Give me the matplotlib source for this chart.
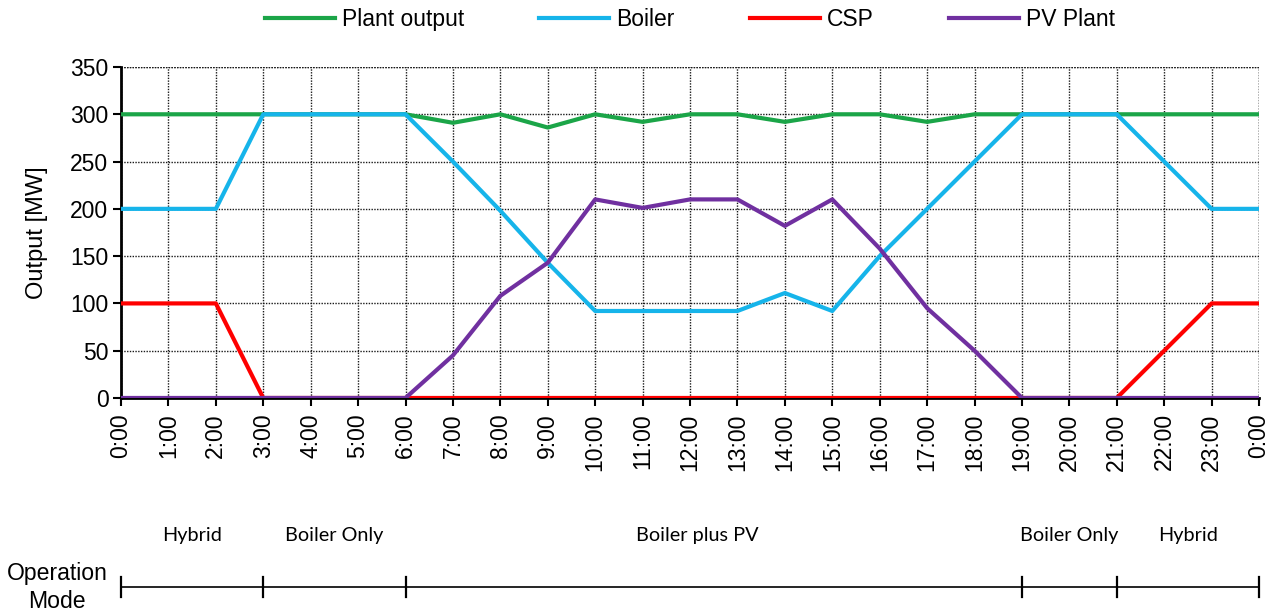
import matplotlib.pyplot as plt
import matplotlib.transforms as mtransforms
import numpy as np

plt.rcParams['font.family'] = ['Liberation Sans', 'DejaVu Sans']

hours = list(range(25))
hour_labels = [f"{h % 24}:00" for h in hours]

plant_output = [300, 300, 300, 300, 300, 300, 300, 291, 300, 286, 300, 292, 300,
                300, 292, 300, 300, 292, 300, 300, 300, 300, 300, 300, 300]
boiler = [200, 200, 200, 300, 300, 300, 300, 250, 198, 143, 92, 92, 92,
          92, 111, 92, 150, 200, 250, 300, 300, 300, 250, 200, 200]
csp = [100, 100, 100, 0, 0, 0, 0, 0, 0, 0, 0, 0, 0,
       0, 0, 0, 0, 0, 0, 0, 0, 0, 50, 100, 100]
pv_plant = [0, 0, 0, 0, 0, 0, 0, 45, 108, 143, 210, 201, 210,
            210, 182, 210, 158, 95, 50, 0, 0, 0, 0, 0, 0]

mode_bounds = [0, 3, 6, 19, 21, 24]
mode_labels = ["Hybrid", "Boiler Only", "Boiler plus PV", "Boiler Only", "Hybrid"]
mode_label_x = [1.5, 4.5, 12.15, 20.0, 22.5]

fig = plt.figure(figsize=(12.79, 6.12), dpi=100)
ax = fig.add_axes([0.0946, 0.3497, 0.8898, 0.5408])

ax.plot(hours, plant_output, color='#1ba548', lw=3, label='Plant output', zorder=3)
ax.plot(hours, boiler, color='#16b4ea', lw=3, label='Boiler', zorder=4)
ax.plot(hours, csp, color='#fe0000', lw=3, label='CSP', zorder=4)
ax.plot(hours, pv_plant, color='#7030a0', lw=3, label='PV Plant', zorder=5)

ax.set_xlim(0, 24)
ax.set_ylim(0, 350)
ax.set_xticks(hours)
ax.set_xticklabels(hour_labels, rotation=90, fontsize=16.5)
ax.set_yticks(np.arange(0, 351, 50))
ax.tick_params(axis='y', labelsize=16.5, length=6, width=1.5, direction='out', pad=3)
ax.tick_params(axis='x', length=6, width=1.5, direction='out', pad=5)
ax.set_ylabel('Output [MW]', fontsize=17, labelpad=16)
ax.grid(True, color='0.1', linestyle=(0, (1, 1)), lw=1)
ax.set_axisbelow(True)
ax.spines['top'].set_visible(False)
ax.spines['right'].set_visible(False)
ax.spines['left'].set_linewidth(2)
ax.spines['bottom'].set_linewidth(2)
ax.axhline(350, color='0.1', linestyle=(0, (1, 1)), lw=1)
ax.axvline(24, color='0.1', linestyle=(0, (1, 1)), lw=1)

ax.legend(loc='center', bbox_to_anchor=(0.5, 1.145), ncol=4, frameon=False,
          fontsize=16.5, handlelength=3.05, columnspacing=3.3, handletextpad=0.3,
          borderaxespad=0, borderpad=0)

# operation mode strip below the axis
trans = mtransforms.blended_transform_factory(ax.transData, fig.transFigure)
ax.plot([0, 24], [0.0408, 0.0408], color='black', lw=1.2, transform=trans, clip_on=False)
for b in mode_bounds:
    ax.plot([b, b], [0.0245, 0.0572], color='black', lw=1.6, transform=trans, clip_on=False)
for xl, lab in zip(mode_label_x, mode_labels):
    ax.text(xl, 0.1258, lab, ha='center', va='center', fontsize=14.3,
            family=['Lato', 'DejaVu Sans'], transform=trans)
fig.text(0.0446, 0.04, 'Operation\nMode', ha='center', va='center', fontsize=16.6,
         linespacing=1.25)

fig.savefig('out.png', dpi=100)
